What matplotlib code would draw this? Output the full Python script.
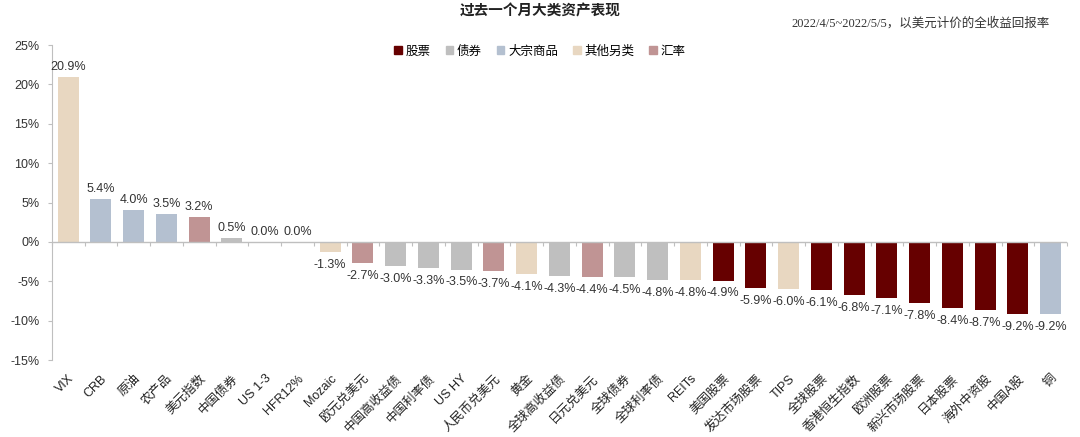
import matplotlib
matplotlib.use("Agg")
import matplotlib.pyplot as plt
from matplotlib.patches import Patch

plt.rcParams['font.family'] = ['Liberation Sans', 'Noto Sans CJK SC', 'DejaVu Sans']

categories = ["VIX", "CRB", "原油", "农产品", "美元指数", "中国债券", "US 1-3", "HFR12%", "Mozaic",
              "欧元兑美元", "中国高收益债", "中国利率债", "US HY", "人民币兑美元", "黄金", "全球高收益债",
              "日元兑美元", "全球债券", "全球利率债", "REITs", "美国股票", "发达市场股票", "TIPS",
              "全球股票", "香港恒生指数", "欧洲股票", "新兴市场股票", "日本股票", "海外中资股", "中国A股", "铜"]
values = [20.9, 5.4, 4.0, 3.5, 3.2, 0.5, 0.0, 0.0, -1.3,
          -2.7, -3.0, -3.3, -3.5, -3.7, -4.1, -4.3,
          -4.4, -4.5, -4.8, -4.8, -4.9, -5.9, -6.0,
          -6.1, -6.8, -7.1, -7.8, -8.4, -8.7, -9.2, -9.2]
groups = ["其他另类", "大宗商品", "大宗商品", "大宗商品", "汇率", "债券", "债券", "其他另类", "其他另类",
          "汇率", "债券", "债券", "债券", "汇率", "其他另类", "债券",
          "汇率", "债券", "债券", "其他另类", "股票", "股票", "其他另类",
          "股票", "股票", "股票", "股票", "股票", "股票", "股票", "大宗商品"]
legend_groups = ["股票", "债券", "大宗商品", "其他另类", "汇率"]
group_colors = {"股票": "#660000", "债券": "#BFBFBF", "大宗商品": "#B4C0D0",
                "其他另类": "#E8D7C1", "汇率": "#C09494"}

title = "过去一个月大类资产表现"
subtitle = "2022/4/5~2022/5/5，以美元计价的全收益回报率"

fig = plt.figure(figsize=(10.8, 4.37), dpi=100)
ax = fig.add_axes([0.048, 0.176, 0.940, 0.721])

x = list(range(len(categories)))
colors = [group_colors[g] for g in groups]
ax.bar(x, values, width=0.64, color=colors, zorder=2)

for xi, v in zip(x, values):
    if v >= 0:
        ax.annotate(f"{v:.1f}%", (xi, v), xytext=(0, 3), textcoords="offset points",
                    ha="center", va="bottom", fontsize=9, color="#333333")
    else:
        ax.annotate(f"{v:.1f}%", (xi, v), xytext=(0, -5), textcoords="offset points",
                    ha="center", va="top", fontsize=9, color="#333333")

ax.set_xlim(-0.5, len(categories) - 0.5)
ax.set_ylim(-15, 25)
ax.set_yticks(range(-15, 26, 5))
ax.set_yticklabels([f"{t}%" for t in range(-15, 26, 5)], fontsize=9, color="#333333")
ax.tick_params(axis="y", length=3, color="#BFBFBF", pad=6)

ax.set_xticks(x)
ax.set_xticklabels(categories, rotation=45, ha="right", rotation_mode="anchor",
                   fontsize=9, color="#222222")
ax.tick_params(axis="x", length=0, pad=9)

for s in ["top", "right", "bottom"]:
    ax.spines[s].set_visible(False)
ax.spines["left"].set_color("#BFBFBF")

ax.axhline(0, color="#BFBFBF", lw=1, zorder=3)
sec = ax.secondary_xaxis(15 / 40)
sec.set_xticks([i - 0.5 for i in range(len(categories) + 1)])
sec.set_xticklabels([])
sec.tick_params(axis="x", length=3, color="#BFBFBF", direction="out")
sec.spines["bottom"].set_visible(False)

handles = [Patch(color=group_colors[g]) for g in legend_groups]
fig.legend(handles, legend_groups, loc="center", bbox_to_anchor=(0.5, 0.882), ncol=5,
           frameon=False, fontsize=9, handlelength=0.6, handleheight=0.6,
           handletextpad=0.3, columnspacing=1.2)

fig.text(0.5, 0.975, title, ha="center", va="center", fontsize=10.5, fontweight="bold", color="#222222")
fig.text(0.972, 0.947, subtitle, ha="right", va="center", fontsize=9, color="#333333",
         family=['Liberation Serif', 'Noto Sans CJK SC', 'DejaVu Sans'])

fig.savefig("out.png", dpi=100)
